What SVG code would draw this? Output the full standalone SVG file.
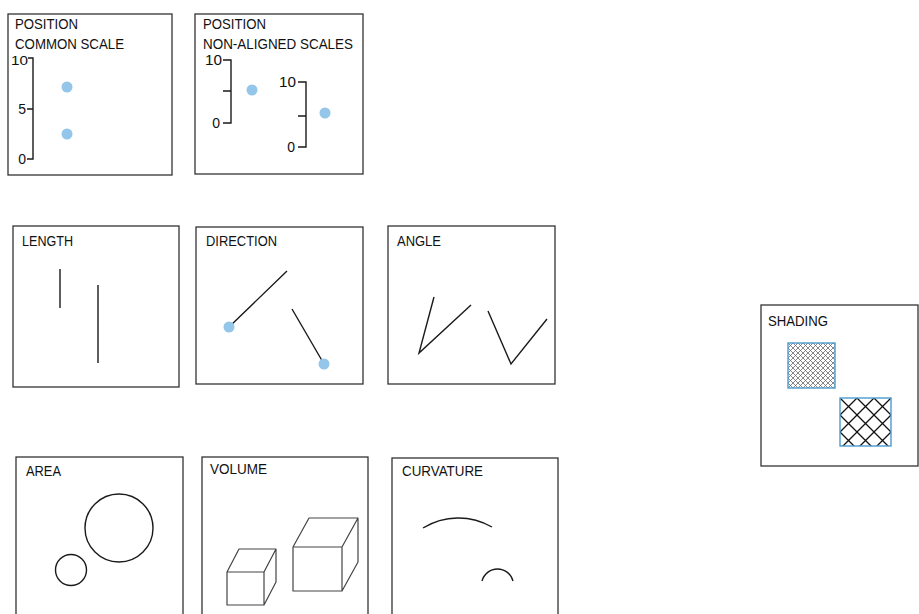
<svg xmlns="http://www.w3.org/2000/svg" width="919" height="614" viewBox="0 0 919 614">
<style>
.box{fill:#fff;stroke:#333;stroke-width:1.3}
.t{font-family:"Liberation Sans",Arial,sans-serif;font-size:15px;fill:#111}
.n{font-family:"Liberation Sans",Arial,sans-serif;font-size:14px;fill:#111;text-anchor:end}
.ln{fill:none;stroke:#1a1a1a;stroke-width:1.4}
.cube{fill:none;stroke:#444;stroke-width:1.2;stroke-linejoin:round}
.dot{fill:#93c6e8}
.sq{stroke:#4a9ccc;stroke-width:1.4}
</style>
<defs>
<pattern id="fine" patternUnits="userSpaceOnUse" x="788" y="343" width="5" height="5">
<path d="M0,0L5,5M5,0L0,5" stroke="#555" stroke-width="0.7"/>
</pattern>
<pattern id="coarse" patternUnits="userSpaceOnUse" x="840" y="398" width="17" height="17">
<path d="M0,0L17,17M17,0L0,17" stroke="#111" stroke-width="1.3"/>
</pattern>
</defs>
<rect width="919" height="614" fill="#fff"/>

<g id="position-common">
<rect class="box" x="8" y="14" width="164" height="161"/>
<text class="t" x="15" y="28.5" textLength="63" lengthAdjust="spacingAndGlyphs">POSITION</text>
<text class="t" x="15" y="49" textLength="109" lengthAdjust="spacingAndGlyphs">COMMON SCALE</text>
<path class="ln" d="M28,58H33V159H27M27,109H33"/>
<text class="n" x="28" y="64.5" style="font-size:12.5px" textLength="17" lengthAdjust="spacingAndGlyphs">10</text>
<text class="n" x="26" y="114">5</text>
<text class="n" x="26" y="164">0</text>
<circle class="dot" cx="67" cy="87" r="5.5"/>
<circle class="dot" cx="67" cy="134" r="5.5"/>
</g>

<g id="position-nonaligned">
<rect class="box" x="195" y="14" width="168" height="160"/>
<text class="t" x="203" y="28.5" textLength="63" lengthAdjust="spacingAndGlyphs">POSITION</text>
<text class="t" x="203" y="49" textLength="150" lengthAdjust="spacingAndGlyphs">NON-ALIGNED SCALES</text>
<path class="ln" d="M223,60H231V123H223M223,91H231"/>
<text class="n" x="222" y="65" textLength="17" lengthAdjust="spacingAndGlyphs">10</text>
<text class="n" x="220" y="128">0</text>
<circle class="dot" cx="252" cy="90" r="5.5"/>
<path class="ln" d="M298,82H306V147H298M298,116H306"/>
<text class="n" x="296" y="87" textLength="17" lengthAdjust="spacingAndGlyphs">10</text>
<text class="n" x="295" y="152">0</text>
<circle class="dot" cx="325" cy="113" r="5.5"/>
</g>

<g id="length">
<rect class="box" x="13" y="226" width="166" height="161"/>
<text class="t" x="22" y="245.5" textLength="51" lengthAdjust="spacingAndGlyphs">LENGTH</text>
<path class="ln" d="M60,269V308M98,285V363"/>
</g>

<g id="direction">
<rect class="box" x="196" y="227" width="167" height="157"/>
<text class="t" x="206" y="245.5" textLength="71" lengthAdjust="spacingAndGlyphs">DIRECTION</text>
<path class="ln" d="M287,271L229,327M292,309L324,364"/>
<circle class="dot" cx="229" cy="327" r="5.5"/>
<circle class="dot" cx="324" cy="364" r="5.5"/>
</g>

<g id="angle">
<rect class="box" x="388" y="226" width="167" height="158"/>
<text class="t" x="397" y="245.5" textLength="44" lengthAdjust="spacingAndGlyphs">ANGLE</text>
<path class="ln" d="M434,297L419,353L471,305M488,311L511,364L547,319"/>
</g>

<g id="area">
<rect class="box" x="16" y="457" width="167" height="170"/>
<text class="t" x="26" y="475.5" textLength="35" lengthAdjust="spacingAndGlyphs">AREA</text>
<circle class="ln" cx="119" cy="528" r="34"/>
<circle class="ln" cx="71" cy="570" r="15.5"/>
</g>

<g id="volume">
<rect class="box" x="202" y="457" width="166" height="170"/>
<text class="t" x="210" y="473.5" textLength="57" lengthAdjust="spacingAndGlyphs">VOLUME</text>
<path class="cube" d="M227,572H264V605H227ZM227,572L239,549H276L264,572M276,549V582L264,605"/>
<path class="cube" d="M293,547H342V591H293ZM293,547L309,518H358L342,547M358,518V562L342,591"/>
</g>

<g id="curvature">
<rect class="box" x="392" y="458" width="166" height="170"/>
<text class="t" x="402" y="475.5" textLength="81" lengthAdjust="spacingAndGlyphs">CURVATURE</text>
<path class="ln" d="M423,528A67,67 0 0 1 492,527"/>
<path class="ln" d="M482,581A16,16 0 0 1 513,581"/>
</g>

<g id="shading">
<rect class="box" x="761" y="305" width="157" height="161"/>
<text class="t" x="768" y="325.5" textLength="60" lengthAdjust="spacingAndGlyphs">SHADING</text>
<rect class="sq" x="788" y="343" width="47" height="45" fill="url(#fine)"/>
<rect class="sq" x="840" y="398" width="51" height="48" fill="url(#coarse)"/>
</g>
</svg>
